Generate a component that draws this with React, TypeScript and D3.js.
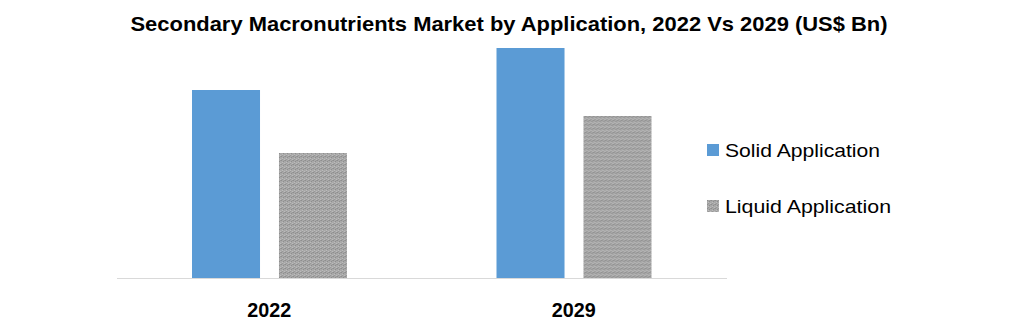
import React from "react";
import * as d3 from "d3";

const years = ["2022", "2029"];
const seriesNames = ["Solid Application", "Liquid Application"];
const solidValues = [1.88, 2.3];
const liquidValues = [1.25, 1.62];
const titleText = "Secondary Macronutrients Market by Application, 2022 Vs 2029 (US$ Bn)";

const W = 1032;
const H = 322;

export default function App() {
  const x0 = d3.scaleBand<string>().domain(years).range([117, 726]).padding(0);
  const x1 = d3
    .scaleBand<string>()
    .domain(seriesNames)
    .range([75, 230])
    .paddingInner(0.218)
    .paddingOuter(0);
  const y = d3.scaleLinear().domain([0, 2.3]).range([278, 48]);
  const series = [
    { name: seriesNames[0], values: solidValues, fill: "#5b9bd5" },
    { name: seriesNames[1], values: liquidValues, fill: "url(#grayPat)" },
  ];
  return (
    <svg
      width={W}
      height={H}
      style={{ position: "absolute", left: 0, top: 0, background: "#fff" }}
      fontFamily="'Liberation Sans', Arial, sans-serif"
    >
      <defs>
        <pattern id="grayPat" width="4" height="4" patternUnits="userSpaceOnUse">
          <rect width="4" height="4" fill="#a8a8a8" />
          <rect x="0" y="0" width="1" height="1" fill="#8e8e8e" />
          <rect x="2" y="1" width="1" height="1" fill="#8e8e8e" />
          <rect x="1" y="2" width="1" height="1" fill="#bcbcbc" />
          <rect x="3" y="3" width="1" height="1" fill="#bcbcbc" />
          <rect x="3" y="0" width="1" height="1" fill="#989898" />
          <rect x="1" y="3" width="1" height="1" fill="#989898" />
        </pattern>
      </defs>
      <text
        x={509}
        y={31}
        textAnchor="middle"
        fontWeight="bold"
        fontSize={21}
        textLength={757}
        lengthAdjust="spacingAndGlyphs"
        fill="#000"
      >
        {titleText}
      </text>
      {years.map((yr, i) => (
        <g key={yr} transform={`translate(${x0(yr)},0)`}>
          {series.map((s) => (
            <rect
              key={s.name}
              x={x1(s.name)}
              y={y(s.values[i])}
              width={x1.bandwidth()}
              height={y(0) - y(s.values[i])}
              fill={s.fill}
            />
          ))}
          <text
            x={x0.bandwidth() / 2}
            y={317}
            textAnchor="middle"
            fontWeight="bold"
            fontSize={20}
            textLength={44}
            lengthAdjust="spacingAndGlyphs"
            fill="#000"
          >
            {yr}
          </text>
        </g>
      ))}
      <line x1={117} x2={727} y1={278.5} y2={278.5} stroke="#d9d9d9" strokeWidth={1} />
      {series.map((s, i) => (
        <g key={s.name} transform={`translate(707,${144 + i * 56})`}>
          <rect width={12} height={12} fill={s.fill} />
          <text
            x={18}
            y={13}
            fontSize={19}
            fill="#000"
            textLength={i === 0 ? 155 : 166}
            lengthAdjust="spacingAndGlyphs"
          >
            {s.name}
          </text>
        </g>
      ))}
    </svg>
  );
}
